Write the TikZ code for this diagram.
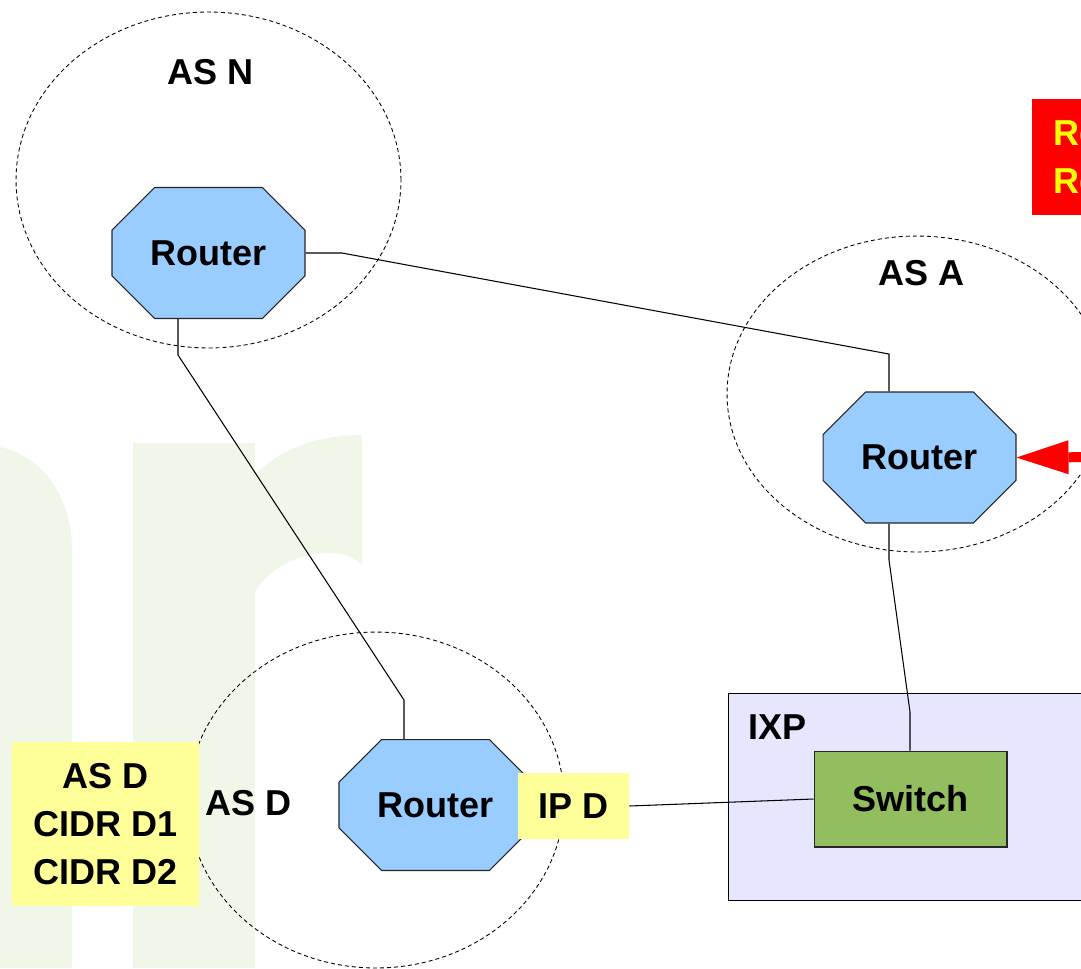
\documentclass[tikz,border=0pt]{standalone}
\usepackage{fontspec}
\setmainfont{Liberation Sans}
\usetikzlibrary{shapes.misc,arrows.meta}
\definecolor{routerblue}{RGB}{153,204,255}
\definecolor{padyellow}{RGB}{255,255,153}
\definecolor{switchgreen}{RGB}{147,190,95}
\definecolor{ixpfill}{RGB}{230,230,255}
\definecolor{wmgreen}{RGB}{240,247,233}
\definecolor{txtyellow}{RGB}{255,255,0}
\pgfdeclarelayer{bg}
\pgfdeclarelayer{lines}
\pgfsetlayers{bg,lines,main}
\begin{document}
\begin{tikzpicture}[x=0.02cm,y=-0.02cm,
  lbl/.style={font=\bfseries\fontsize{20.5}{27.2}\selectfont, inner sep=0pt},
  router/.style={chamfered rectangle, chamfered rectangle sep=0.6cm,
    minimum width=3.86cm, minimum height=2.62cm, draw=black!85,
    line width=0.6pt, fill=routerblue, lbl},
  link/.style={draw=black, line width=0.6pt},
  asring/.style={draw=black, line width=0.5pt, dash pattern=on 2.3pt off 1.7pt},
  pad/.style={fill=padyellow, lbl, align=center}
]
\useasboundingbox (0,0) rectangle (1081,968);
\clip (0,0) rectangle (1081,968);

\begin{pgfonlayer}{bg}
  % watermark
  \fill[wmgreen] (0,447) .. controls (40,455) and (72,495) .. (72,550) -- (72,968) -- (0,968) -- cycle;
  \fill[wmgreen] (133,443) rectangle (255,968);
  \fill[wmgreen] (255,475) .. controls (280,448) and (320,435) .. (362,435) -- (362,565)
     .. controls (352,556) and (342,553) .. (330,553)
     .. controls (295,553) and (268,570) .. (255,592) -- cycle;
  % AS rings
  \draw[asring] (208.5,180) ellipse [x radius=3.85cm, y radius=3.36cm];
  \draw[asring] (917,394) ellipse [x radius=3.8cm, y radius=3.16cm];
  \draw[asring] (376,800) ellipse [x radius=3.76cm, y radius=3.36cm];
  % IXP
  \node[fill=ixpfill, draw=black, line width=0.6pt, anchor=north west,
        minimum width=7.6cm, minimum height=4.14cm, inner sep=0pt] (ixp) at (728,693) {};
\end{pgfonlayer}

% labels
\node[lbl] (lasn) at (211,72) {AS N};
\node[lbl] (lasa) at (922,273) {AS A};
\node[lbl] (lasd) at (248.5,803.5) {AS D};
\node[lbl] (lixp) at (777.5,727) {IXP};

% routers
\node[router] (rN) at (208.5,253) {Router};
\node[router] (rA) at (919.5,457.5) {Router};
\node[router] (rD) at (435.5,805) {Router};

% switch
\node[fill=switchgreen, draw=black!85, line width=0.6pt, lbl,
      minimum width=3.86cm, minimum height=1.92cm] (sw) at (910.5,799) {Switch};

% yellow pads
\node[pad, minimum width=2.22cm, minimum height=1.32cm] (ipd) at (573.5,806) {IP D};
\node[pad, minimum width=3.74cm, minimum height=3.28cm] (asdinfo) at (105.5,824)
  {AS D\\CIDR D1\\CIDR D2};

% red note (cut by the page edge)
\node[fill=red, text=txtyellow, lbl, anchor=north west, text width=6cm,
      minimum height=2.32cm, inner xsep=0.42cm, align=left] (note) at (1032,99) {Re\\Re};

% connectors
\coordinate (bNA) at (889,354);
\coordinate (bN1) at (178,355);
\coordinate (bN2) at (404,700);
\coordinate (bA1) at (889,560);
\coordinate (bA2) at (910,712);
\coordinate (arrsrc) at (1120,457);
\begin{pgfonlayer}{lines}
  \draw[link] (rN.east) -- (342,253) -- (bNA) -- (bNA |- rA.north);
  \draw[link] (bN1 |- rN.south) -- (bN1) -- (bN2) -- (bN2 |- rD.north);
  \draw[link] (bA1 |- rA.south) -- (bA1) -- (bA2) -- (bA2 |- sw.north);
  \draw[link] (ipd.east) -- (sw.west);
\end{pgfonlayer}
\draw[draw=red, line width=0.2cm,
      -{Triangle[length=1.04cm,width=0.68cm,line width=0pt]}] (arrsrc) -- (rA.east);
\end{tikzpicture}
\end{document}
